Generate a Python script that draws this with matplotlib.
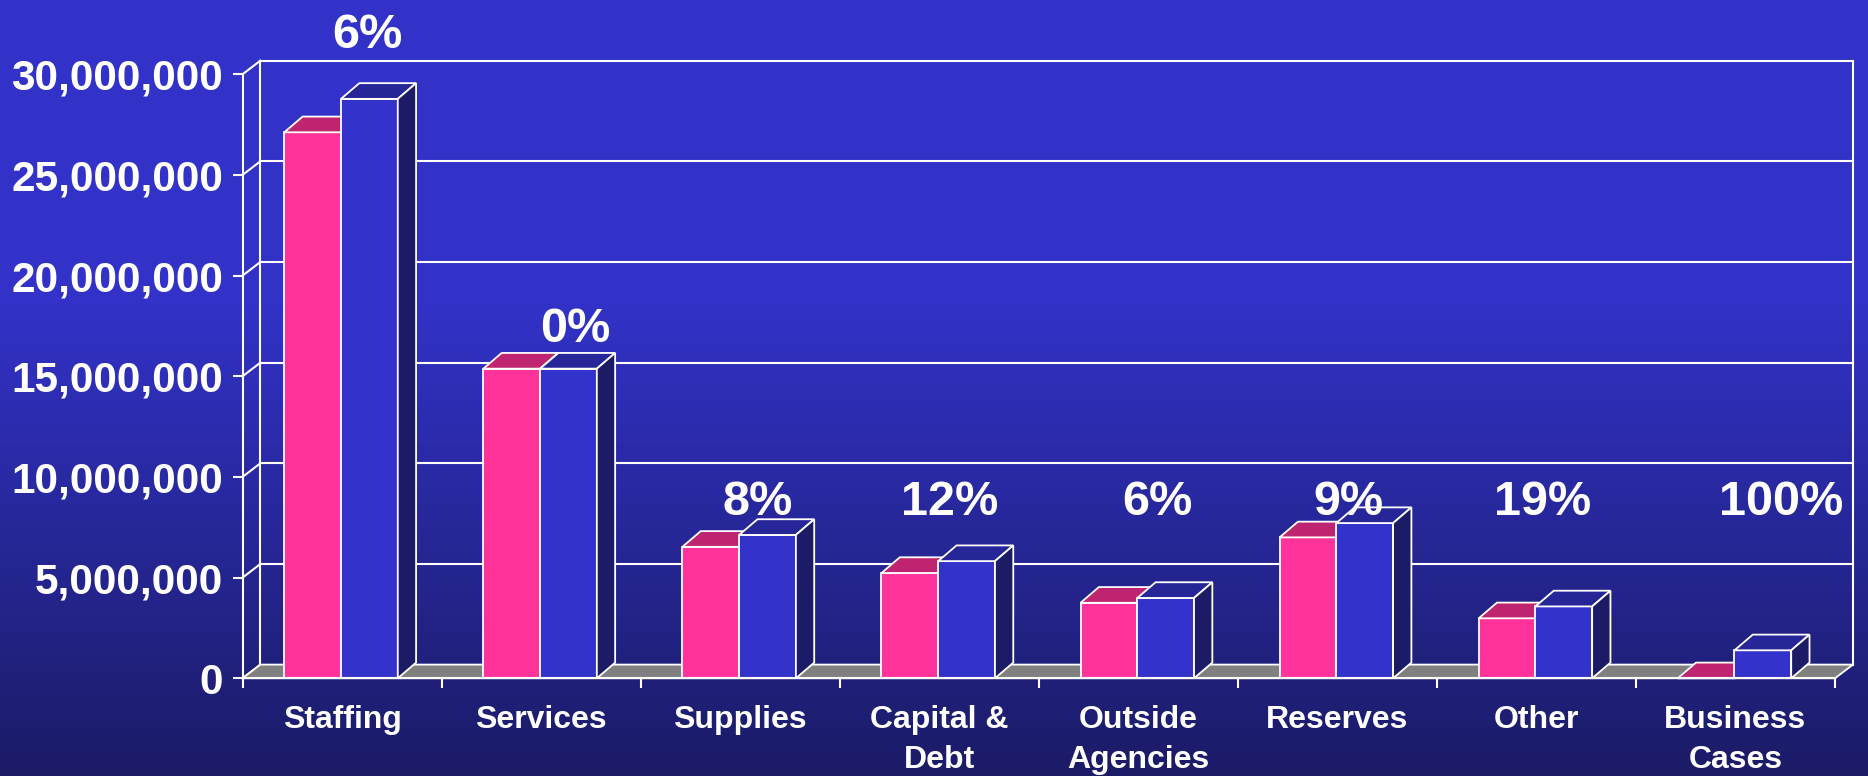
import numpy as np
import matplotlib
matplotlib.use('Agg')
import matplotlib.pyplot as plt
from matplotlib.patches import Polygon
from matplotlib.ticker import FuncFormatter
from matplotlib.colors import to_rgb

plt.rcParams['font.family'] = ['Liberation Sans', 'DejaVu Sans']
plt.rcParams['font.weight'] = 'bold'

categories = ['Staffing', 'Services', 'Supplies', 'Capital &\nDebt',
              'Outside\nAgencies', 'Reserves', 'Other', 'Business\nCases']
prior_year = [27.12e6, 15.38e6, 6.53e6, 5.23e6, 3.75e6, 7.00e6, 2.98e6, 0.0]
this_year = [28.78e6, 15.38e6, 7.12e6, 5.82e6, 3.99e6, 7.71e6, 3.57e6, 1.39e6]
pct_change = ['6%', '0%', '8%', '12%', '6%', '9%', '19%', '100%']
yticks = [0, 5e6, 10e6, 15e6, 20e6, 25e6, 30e6]

# where the % labels sit (offset inside category, baseline value)
lab_x = [0.625, 0.672, 0.588, 0.551, 0.598, 0.555, 0.53, 0.727]
lab_y = [31.3e6, 16.7e6, 8.13e6, 8.13e6, 8.13e6, 8.13e6, 8.13e6, 8.13e6]

PINK, PINK_TOP = '#FF3399', '#BF2470'
BLUE, BLUE_TOP, BLUE_SIDE = '#3333CC', '#262699', '#1C1C66'
FLOOR = '#808080'
W = 1.3

fig = plt.figure(figsize=(18.68, 7.76), dpi=100)

# background gradient
bg = fig.add_axes([0, 0, 1, 1], zorder=-1)
top_c = np.array(to_rgb('#3232C8'))
bot_c = np.array(to_rgb('#1B1B66'))
yy = np.linspace(0, 1, 776)
t = np.clip((yy - 0.39) / 0.61, 0, 1)
grad = top_c[None, :] * (1 - t[:, None]) + bot_c[None, :] * t[:, None]
bg.imshow(grad[:, None, :], aspect='auto', extent=[0, 1, 1, 0])
bg.set_xlim(0, 1)
bg.set_ylim(1, 0)
bg.axis('off')

ax = fig.add_axes([242.5 / 1868, 97.7 / 776, 1592.5 / 1868, 604 / 776])
ax.set_facecolor('none')
n = len(categories)
ax.set_xlim(0, n)
ax.set_ylim(0, 30e6)

# depth offsets for walls and bars (data units)
dxw, dyw = 0.09, 0.68e6
dxb, dyb = 0.092, 0.78e6

# back wall gridlines, wall edges and left side wall
for v in yticks:
    ax.plot([dxw, n + dxw], [v + dyw, v + dyw], color='white', lw=1.5,
            clip_on=False, zorder=0.5)
    ax.plot([0, dxw], [v, v + dyw], color='white', lw=1.5,
            clip_on=False, zorder=0.5)
for xe in (dxw, n + dxw):
    ax.plot([xe, xe], [dyw, 30e6 + dyw], color='white', lw=1.5,
            clip_on=False, zorder=0.5)

# floor
ax.add_patch(Polygon([(0, 0), (n, 0), (n + dxw, dyw), (dxw, dyw)],
                     closed=True, fc=FLOOR, ec='white', lw=W,
                     clip_on=False, zorder=0.8))


def bar3d(x0, w, h, front, top, side):
    kw = dict(closed=True, ec='white', lw=W, clip_on=False, zorder=1)
    ax.add_patch(Polygon([(x0, 0), (x0 + w, 0), (x0 + w, h), (x0, h)],
                         fc=front, **kw))
    ax.add_patch(Polygon([(x0, h), (x0 + w, h), (x0 + w + dxb, h + dyb),
                          (x0 + dxb, h + dyb)], fc=top, **kw))
    ax.add_patch(Polygon([(x0 + w, 0), (x0 + w + dxb, dyb),
                          (x0 + w + dxb, h + dyb), (x0 + w, h)],
                         fc=side, **kw))


bw = 0.285
for i in range(n):
    x0 = i + 0.21
    bar3d(x0, bw, prior_year[i], PINK, PINK_TOP, BLUE_SIDE)
    bar3d(x0 + bw, bw, this_year[i], BLUE, BLUE_TOP, BLUE_SIDE)
    ax.text(i + lab_x[i], lab_y[i], pct_change[i], color='white',
            fontsize=35, fontweight='bold', ha='center', va='baseline',
            zorder=5, clip_on=False)

# front axes
for s in ('top', 'right'):
    ax.spines[s].set_visible(False)
for s in ('left', 'bottom'):
    ax.spines[s].set_color('white')
    ax.spines[s].set_linewidth(1.5)

ax.set_yticks(yticks)
ax.yaxis.set_major_formatter(FuncFormatter(lambda v, p: f'{v:,.0f}'))
ax.tick_params(axis='y', direction='out', length=7, width=1.5, color='white',
               labelcolor='white', labelsize=30.5, pad=7)

ax.set_xticks(np.arange(n + 1))
ax.set_xticklabels([])
ax.set_xticks(np.arange(n) + 0.5, minor=True)
ax.set_xticklabels(categories, minor=True, linespacing=1.45)
ax.tick_params(axis='x', which='major', direction='out', length=7, width=1.5,
               color='white')
ax.tick_params(axis='x', which='minor', length=0, labelcolor='white',
               labelsize=23, pad=19)
for lab in ax.get_yticklabels() + ax.get_xticklabels(minor=True):
    lab.set_fontweight('bold')

fig.savefig('out.png', dpi=100)
